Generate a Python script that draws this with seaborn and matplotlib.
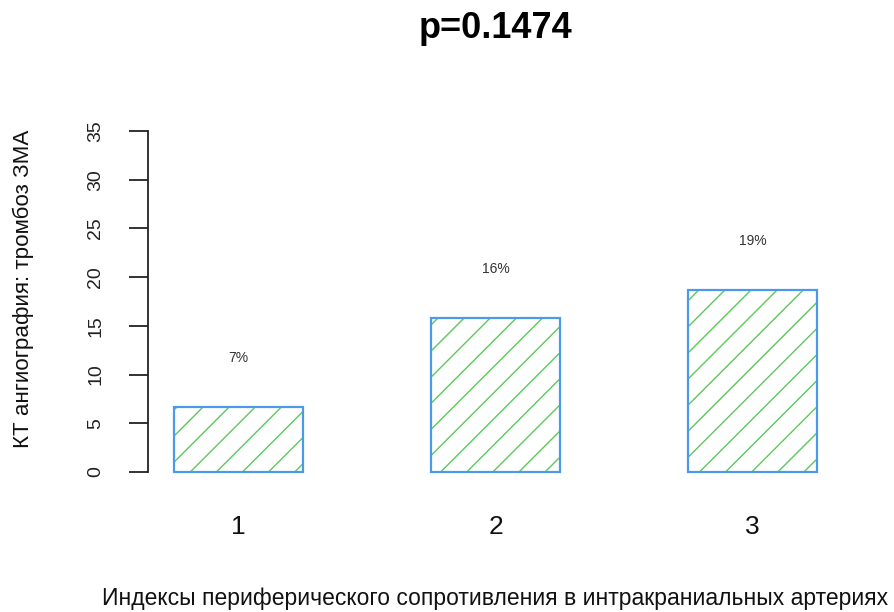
import numpy as np
import pandas as pd
import matplotlib
matplotlib.use("Agg")
import matplotlib.pyplot as plt
import seaborn as sns

# Data
categories = ["1", "2", "3"]
values = [6.67, 15.8, 18.7]          # % of patients with thrombosis
y_ticks = [0, 5, 10, 15, 20, 25, 30, 35]
title = "p=0.1474"
x_label = "Индексы периферического сопротивления в интракраниальных артериях"
y_label = "КТ ангиография: тромбоз ЗМА"

EDGE = "#4A9AE8"
HATCH = "#5CC85C"

sns.set_style("white")
plt.rcParams["font.family"] = ["Liberation Sans", "DejaVu Sans"]

df = pd.DataFrame({"group": categories, "pct": values})

fig = plt.figure(figsize=(8.94, 6.12), dpi=100)
W, H = 894, 612
ax = fig.add_axes([148 / W, (H - 485.6) / H, (843 - 148) / W, (485.6 - 117.4) / H])

sns.barplot(data=df, x="group", y="pct", width=0.5, color="white",
            edgecolor=EDGE, linewidth=1.6, ax=ax)

ax.set_xlim(-0.351, 2.351)
ax.set_ylim(-1.4, 36.4)

for p in ax.patches:
    p.set_facecolor("none")
    p.set_zorder(3)

# Diagonal 45-degree hatching, clipped to each bar, on a common pixel grid
fig.canvas.draw()
to_disp = ax.transData
to_data = ax.transData.inverted()
spacing = 26.1
anchor = to_disp.transform([(ax.patches[0].get_bbox().x0, 0)])[0][0] + 3
for p in ax.patches:
    bb = p.get_bbox()
    (x0, y0), (x1, y1) = to_disp.transform([(bb.x0, bb.y0), (bb.x1, bb.y1)])
    first = x0 - ((x0 - anchor) % spacing)
    c = first - (y1 - y0) - spacing
    while c < x1 + spacing:
        seg = np.array([(c - spacing, y0 - spacing), (c + (y1 - y0) + spacing, y1 + spacing)])
        d = to_data.transform(seg)
        ln, = ax.plot(d[:, 0], d[:, 1], color=HATCH, lw=1.0, zorder=2,
                      solid_capstyle="butt")
        ln.set_clip_path(p)
        c += spacing

# Percentage labels above bars
for i, v in enumerate(values):
    ax.text(i, v + 5, f"{round(v)}%", ha="center", va="center",
            fontsize=10, color="#333333")

# Axes styling
for s in ["top", "right", "bottom"]:
    ax.spines[s].set_visible(False)
ax.spines["left"].set_bounds(0, 35)
ax.spines["left"].set_linewidth(1.3)
ax.spines["left"].set_color("#222222")
ax.set_yticks(y_ticks)
ax.set_yticklabels([str(t) for t in y_ticks], rotation=90, va="center")
ax.tick_params(axis="y", length=13.5, width=1.3, color="#222222",
               labelsize=14, pad=18, left=True, labelcolor="#222222")
ax.tick_params(axis="x", length=0, labelsize=19, pad=21, labelcolor="#111111")
ax.set_xlabel("")
ax.set_ylabel("")

fig.text(23 / W, 1 - 289 / H, y_label, rotation=90, ha="center", va="center",
         fontsize=16.1, color="#111111")
fig.text(495 / W, 1 - 598 / H, x_label, ha="center", va="center",
         fontsize=16.5, color="#111111")
fig.text(495.5 / W, 1 - 38 / H, title, ha="center", va="baseline",
         fontsize=26, fontweight="bold", color="black")

fig.savefig("out.png", dpi=100)
